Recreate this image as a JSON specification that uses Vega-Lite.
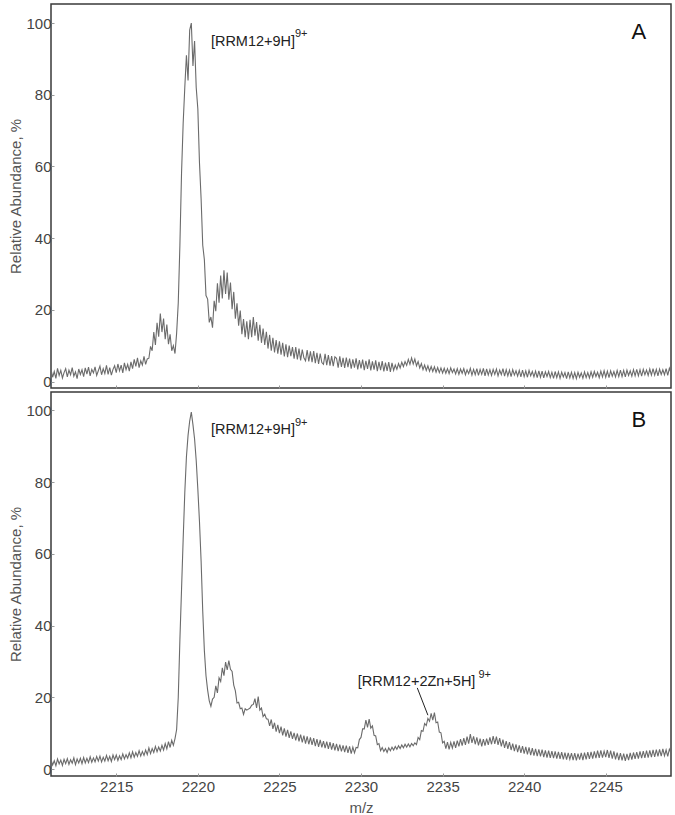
{
"$schema": "https://vega.github.io/schema/vega-lite/v6.json",
"padding": {"left": 8, "top": 3, "right": 4, "bottom": 4},
"background": "white",
"spacing": 0,
"config": {
  "view": {"stroke": "#3a3a3a", "strokeWidth": 1.5},
  "font": "Liberation Sans",
  "axis": {"grid": false, "domain": false, "labelFont": "Liberation Sans", "titleFont": "Liberation Sans", "labelFontSize": 15, "labelColor": "#444", "titleColor": "#555", "titleFontWeight": "normal", "titleFontSize": 15, "tickColor": "#999", "tickSize": -3}
},
"datasets": {
"spec": [
{"m":2211.0,"a":3.4,"b":2.6},{"m":2211.1,"a":1.2,"b":1.1},{"m":2211.2,"a":2.8,"b":2.3},{"m":2211.3,"a":0.9,"b":0.9},{"m":2211.4,"a":3.7,"b":2.8},{"m":2211.5,"a":1.7,"b":1.4},{"m":2211.6,"a":3.1,"b":2.5},{"m":2211.7,"a":1.0,"b":1.0},{"m":2211.8,"a":2.5,"b":2.7},{"m":2211.9,"a":3.6,"b":1.5},
{"m":2212.0,"a":1.3,"b":2.9},{"m":2212.1,"a":3.2,"b":1.3},{"m":2212.2,"a":1.9,"b":2.6},{"m":2212.3,"a":3.9,"b":1.6},{"m":2212.4,"a":1.5,"b":3.1},{"m":2212.5,"a":2.7,"b":1.2},{"m":2212.6,"a":0.8,"b":2.8},{"m":2212.7,"a":3.5,"b":1.7},{"m":2212.8,"a":2.0,"b":3.0},{"m":2212.9,"a":3.3,"b":1.5},
{"m":2213.0,"a":1.4,"b":3.2},{"m":2213.1,"a":3.8,"b":1.7},{"m":2213.2,"a":2.1,"b":3.0},{"m":2213.3,"a":4.0,"b":1.8},{"m":2213.4,"a":1.6,"b":3.4},{"m":2213.5,"a":3.4,"b":1.9},{"m":2213.6,"a":2.4,"b":3.1},{"m":2213.7,"a":4.1,"b":2.0},{"m":2213.8,"a":1.7,"b":3.5},{"m":2213.9,"a":3.0,"b":2.2},
{"m":2214.0,"a":4.3,"b":3.6},{"m":2214.1,"a":1.9,"b":2.0},{"m":2214.2,"a":3.6,"b":3.3},{"m":2214.3,"a":2.2,"b":2.2},{"m":2214.4,"a":4.5,"b":3.8},{"m":2214.5,"a":2.0,"b":2.3},{"m":2214.6,"a":3.9,"b":3.5},{"m":2214.7,"a":1.8,"b":2.1},{"m":2214.8,"a":3.4,"b":3.9},{"m":2214.9,"a":4.4,"b":2.6},
{"m":2215.0,"a":2.5,"b":3.9},{"m":2215.1,"a":4.9,"b":2.4},{"m":2215.2,"a":3.0,"b":3.7},{"m":2215.3,"a":4.6,"b":2.6},{"m":2215.4,"a":2.4,"b":4.2},{"m":2215.5,"a":5.2,"b":2.8},{"m":2215.6,"a":3.3,"b":4.0},{"m":2215.7,"a":4.8,"b":3.0},{"m":2215.8,"a":2.9,"b":4.5},{"m":2215.9,"a":5.5,"b":3.1},
{"m":2216.0,"a":3.6,"b":4.8},{"m":2216.1,"a":6.2,"b":3.3},{"m":2216.2,"a":4.2,"b":4.6},{"m":2216.3,"a":6.6,"b":3.5},{"m":2216.4,"a":3.9,"b":5.1},{"m":2216.5,"a":5.8,"b":3.6},{"m":2216.6,"a":4.6,"b":4.9},{"m":2216.7,"a":7.0,"b":3.8},{"m":2216.8,"a":4.8,"b":5.3},{"m":2216.9,"a":6.3,"b":4.0},
{"m":2217.0,"a":6.5,"b":5.9},{"m":2217.1,"a":9.8,"b":4.3},{"m":2217.2,"a":8.6,"b":5.7},{"m":2217.3,"a":13.8,"b":4.6},{"m":2217.4,"a":10.2,"b":6.3},{"m":2217.5,"a":16.4,"b":4.8},{"m":2217.6,"a":12.5,"b":6.1},{"m":2217.7,"a":19.0,"b":5.0},{"m":2217.8,"a":13.8,"b":6.6},{"m":2217.9,"a":17.6,"b":5.3},
{"m":2218.0,"a":11.8,"b":7.1},{"m":2218.1,"a":15.9,"b":5.6},{"m":2218.2,"a":10.4,"b":7.6},{"m":2218.3,"a":13.2,"b":6.0},{"m":2218.4,"a":8.6,"b":8.0},{"m":2218.5,"a":10.0,"b":6.6},{"m":2218.6,"a":7.8,"b":8.5},{"m":2218.7,"a":13.5,"b":11.0},{"m":2218.8,"a":22.0,"b":20.0},{"m":2218.9,"a":38.0,"b":36.0},
{"m":2219.0,"a":58.0,"b":50.0},{"m":2219.1,"a":72.0,"b":64.0},{"m":2219.2,"a":82.0,"b":77.0},{"m":2219.3,"a":91.0,"b":87.0},{"m":2219.4,"a":84.0,"b":93.0},{"m":2219.5,"a":98.0,"b":97.0},{"m":2219.6,"a":100.0,"b":99.5},{"m":2219.7,"a":88.0,"b":96.0},{"m":2219.8,"a":95.0,"b":92.0},{"m":2219.9,"a":82.0,"b":86.0},
{"m":2220.0,"a":76.0,"b":78.0},{"m":2220.1,"a":61.0,"b":69.0},{"m":2220.2,"a":51.0,"b":58.0},{"m":2220.3,"a":38.0,"b":44.0},{"m":2220.4,"a":34.0,"b":33.0},{"m":2220.5,"a":24.0,"b":26.0},{"m":2220.6,"a":23.0,"b":22.0},{"m":2220.7,"a":16.5,"b":19.0},{"m":2220.8,"a":18.0,"b":17.5},{"m":2220.9,"a":15.0,"b":19.5},
{"m":2221.0,"a":22.5,"b":20.0},{"m":2221.1,"a":19.6,"b":23.2},{"m":2221.2,"a":27.4,"b":21.2},{"m":2221.3,"a":22.0,"b":25.4},{"m":2221.4,"a":29.6,"b":24.4},{"m":2221.5,"a":23.2,"b":28.2},{"m":2221.6,"a":31.0,"b":26.0},{"m":2221.7,"a":24.4,"b":29.8},{"m":2221.8,"a":30.4,"b":27.6},{"m":2221.9,"a":22.8,"b":30.2},
{"m":2222.0,"a":27.6,"b":27.8},{"m":2222.1,"a":20.2,"b":27.2},{"m":2222.2,"a":25.0,"b":23.4},{"m":2222.3,"a":17.5,"b":21.8},{"m":2222.4,"a":21.8,"b":18.4},{"m":2222.5,"a":15.6,"b":18.6},{"m":2222.6,"a":19.8,"b":16.8},{"m":2222.7,"a":13.2,"b":17.0},{"m":2222.8,"a":17.4,"b":15.2},{"m":2222.9,"a":12.4,"b":16.8},
{"m":2223.0,"a":16.8,"b":16.4},{"m":2223.1,"a":11.8,"b":16.7},{"m":2223.2,"a":17.2,"b":17.0},{"m":2223.3,"a":12.4,"b":17.8},{"m":2223.4,"a":18.0,"b":18.0},{"m":2223.5,"a":12.8,"b":19.6},{"m":2223.6,"a":16.6,"b":17.0},{"m":2223.7,"a":11.4,"b":20.2},{"m":2223.8,"a":15.8,"b":16.4},{"m":2223.9,"a":10.8,"b":17.0},
{"m":2224.0,"a":14.8,"b":14.6},{"m":2224.1,"a":10.2,"b":15.3},{"m":2224.2,"a":13.9,"b":14.0},{"m":2224.3,"a":9.2,"b":13.9},{"m":2224.4,"a":13.0,"b":12.0},{"m":2224.5,"a":8.6,"b":13.8},{"m":2224.6,"a":12.2,"b":11.2},{"m":2224.7,"a":8.1,"b":12.9},{"m":2224.8,"a":11.6,"b":10.4},{"m":2224.9,"a":7.8,"b":12.3},
{"m":2225.0,"a":11.2,"b":10.0},{"m":2225.1,"a":7.5,"b":11.8},{"m":2225.2,"a":10.8,"b":9.4},{"m":2225.3,"a":7.0,"b":11.3},{"m":2225.4,"a":10.4,"b":9.0},{"m":2225.5,"a":6.8,"b":10.9},{"m":2225.6,"a":10.0,"b":8.7},{"m":2225.7,"a":7.1,"b":10.5},{"m":2225.8,"a":9.6,"b":8.4},{"m":2225.9,"a":6.4,"b":10.1},
{"m":2226.0,"a":9.6,"b":8.0},{"m":2226.1,"a":6.2,"b":9.9},{"m":2226.2,"a":9.2,"b":7.7},{"m":2226.3,"a":5.9,"b":9.6},{"m":2226.4,"a":8.9,"b":7.4},{"m":2226.5,"a":6.6,"b":9.3},{"m":2226.6,"a":5.8,"b":7.1},{"m":2226.7,"a":8.8,"b":9.1},{"m":2226.8,"a":5.6,"b":6.9},{"m":2226.9,"a":8.4,"b":8.8},
{"m":2227.0,"a":5.4,"b":6.7},{"m":2227.1,"a":8.5,"b":8.6},{"m":2227.2,"a":5.1,"b":6.4},{"m":2227.3,"a":8.0,"b":8.3},{"m":2227.4,"a":4.9,"b":6.2},{"m":2227.5,"a":7.8,"b":8.1},{"m":2227.6,"a":5.3,"b":6.0},{"m":2227.7,"a":4.8,"b":7.8},{"m":2227.8,"a":7.7,"b":5.8},{"m":2227.9,"a":4.6,"b":7.6},
{"m":2228.0,"a":7.4,"b":5.6},{"m":2228.1,"a":4.4,"b":7.5},{"m":2228.2,"a":7.1,"b":5.4},{"m":2228.3,"a":4.3,"b":7.2},{"m":2228.4,"a":6.9,"b":5.2},{"m":2228.5,"a":6.5,"b":7.0},{"m":2228.6,"a":3.9,"b":5.0},{"m":2228.7,"a":7.0,"b":6.8},{"m":2228.8,"a":4.1,"b":4.9},{"m":2228.9,"a":6.6,"b":6.6},
{"m":2229.0,"a":3.8,"b":4.7},{"m":2229.1,"a":6.7,"b":6.5},{"m":2229.2,"a":4.0,"b":4.5},{"m":2229.3,"a":6.4,"b":6.3},{"m":2229.4,"a":3.6,"b":4.3},{"m":2229.5,"a":6.2,"b":6.1},{"m":2229.6,"a":3.9,"b":4.5},{"m":2229.7,"a":6.5,"b":6.0},{"m":2229.8,"a":3.4,"b":5.9},{"m":2229.9,"a":6.0,"b":8.2},
{"m":2230.0,"a":3.7,"b":8.8},{"m":2230.1,"a":6.1,"b":11.2},{"m":2230.2,"a":3.2,"b":11.2},{"m":2230.3,"a":5.8,"b":13.6},{"m":2230.4,"a":3.5,"b":11.6},{"m":2230.5,"a":6.2,"b":13.9},{"m":2230.6,"a":3.1,"b":11.4},{"m":2230.7,"a":5.6,"b":12.0},{"m":2230.8,"a":3.3,"b":9.4},{"m":2230.9,"a":5.9,"b":9.2},
{"m":2231.0,"a":2.9,"b":6.8},{"m":2231.1,"a":5.5,"b":7.1},{"m":2231.2,"a":3.2,"b":5.1},{"m":2231.3,"a":5.7,"b":6.0},{"m":2231.4,"a":2.8,"b":4.9},{"m":2231.5,"a":5.3,"b":5.7},{"m":2231.6,"a":3.0,"b":4.6},{"m":2231.7,"a":5.4,"b":5.9},{"m":2231.8,"a":2.7,"b":5.1},{"m":2231.9,"a":5.2,"b":6.1},
{"m":2232.0,"a":3.1,"b":5.3},{"m":2232.1,"a":4.6,"b":6.3},{"m":2232.2,"a":3.4,"b":5.5},{"m":2232.3,"a":5.0,"b":6.5},{"m":2232.4,"a":3.8,"b":5.7},{"m":2232.5,"a":5.4,"b":6.7},{"m":2232.6,"a":4.2,"b":5.9},{"m":2232.7,"a":5.6,"b":6.9},{"m":2232.8,"a":4.5,"b":6.1},{"m":2232.9,"a":6.2,"b":7.0},
{"m":2233.0,"a":4.8,"b":6.2},{"m":2233.1,"a":6.6,"b":7.1},{"m":2233.2,"a":4.9,"b":6.5},{"m":2233.3,"a":6.3,"b":7.3},{"m":2233.4,"a":4.4,"b":6.8},{"m":2233.5,"a":5.6,"b":8.8},{"m":2233.6,"a":3.8,"b":8.2},{"m":2233.7,"a":5.0,"b":10.7},{"m":2233.8,"a":3.3,"b":10.5},{"m":2233.9,"a":4.6,"b":12.7},
{"m":2234.0,"a":3.1,"b":12.1},{"m":2234.1,"a":4.4,"b":14.1},{"m":2234.2,"a":2.9,"b":13.3},{"m":2234.3,"a":4.2,"b":15.5},{"m":2234.4,"a":2.8,"b":13.6},{"m":2234.5,"a":4.1,"b":15.7},{"m":2234.6,"a":2.6,"b":12.9},{"m":2234.7,"a":3.9,"b":13.1},{"m":2234.8,"a":2.5,"b":10.3},{"m":2234.9,"a":3.8,"b":10.1},
{"m":2235.0,"a":2.4,"b":7.3},{"m":2235.1,"a":3.7,"b":7.7},{"m":2235.2,"a":2.3,"b":5.7},{"m":2235.3,"a":3.6,"b":7.5},{"m":2235.4,"a":2.2,"b":5.5},{"m":2235.5,"a":3.8,"b":7.4},{"m":2235.6,"a":2.5,"b":5.8},{"m":2235.7,"a":3.5,"b":7.7},{"m":2235.8,"a":2.1,"b":5.9},{"m":2235.9,"a":3.6,"b":7.9},
{"m":2236.0,"a":2.0,"b":6.3},{"m":2236.1,"a":3.5,"b":8.3},{"m":2236.2,"a":2.3,"b":6.5},{"m":2236.3,"a":3.6,"b":8.6},{"m":2236.4,"a":1.9,"b":6.7},{"m":2236.5,"a":3.3,"b":9.0},{"m":2236.6,"a":2.2,"b":7.1},{"m":2236.7,"a":3.7,"b":9.7},{"m":2236.8,"a":1.8,"b":7.3},{"m":2236.9,"a":3.4,"b":9.1},
{"m":2237.0,"a":1.9,"b":6.9},{"m":2237.1,"a":3.6,"b":8.8},{"m":2237.2,"a":1.7,"b":6.6},{"m":2237.3,"a":3.4,"b":8.5},{"m":2237.4,"a":2.0,"b":6.3},{"m":2237.5,"a":3.7,"b":8.3},{"m":2237.6,"a":1.6,"b":6.5},{"m":2237.7,"a":3.5,"b":8.5},{"m":2237.8,"a":1.8,"b":6.7},{"m":2237.9,"a":3.3,"b":8.8},
{"m":2238.0,"a":1.7,"b":6.9},{"m":2238.1,"a":3.4,"b":9.2},{"m":2238.2,"a":2.0,"b":7.0},{"m":2238.3,"a":3.5,"b":9.0},{"m":2238.4,"a":1.6,"b":6.7},{"m":2238.5,"a":3.2,"b":8.6},{"m":2238.6,"a":1.9,"b":6.3},{"m":2238.7,"a":3.6,"b":8.2},{"m":2238.8,"a":1.5,"b":5.9},{"m":2238.9,"a":3.3,"b":7.8},
{"m":2239.0,"a":1.6,"b":5.6},{"m":2239.1,"a":3.2,"b":7.5},{"m":2239.2,"a":1.4,"b":5.3},{"m":2239.3,"a":3.3,"b":7.1},{"m":2239.4,"a":1.8,"b":5.0},{"m":2239.5,"a":3.0,"b":6.9},{"m":2239.6,"a":1.5,"b":4.7},{"m":2239.7,"a":3.1,"b":6.6},{"m":2239.8,"a":1.3,"b":4.5},{"m":2239.9,"a":3.2,"b":6.4},
{"m":2240.0,"a":1.4,"b":4.3},{"m":2240.1,"a":3.0,"b":6.2},{"m":2240.2,"a":1.2,"b":4.1},{"m":2240.3,"a":3.1,"b":6.0},{"m":2240.4,"a":1.6,"b":3.9},{"m":2240.5,"a":2.8,"b":5.8},{"m":2240.6,"a":1.3,"b":3.7},{"m":2240.7,"a":2.9,"b":5.6},{"m":2240.8,"a":1.1,"b":3.6},{"m":2240.9,"a":3.0,"b":5.5},
{"m":2241.0,"a":1.2,"b":3.5},{"m":2241.1,"a":2.9,"b":5.4},{"m":2241.2,"a":1.0,"b":3.3},{"m":2241.3,"a":2.7,"b":5.2},{"m":2241.4,"a":1.4,"b":3.2},{"m":2241.5,"a":2.8,"b":5.1},{"m":2241.6,"a":1.1,"b":3.1},{"m":2241.7,"a":2.6,"b":5.0},{"m":2241.8,"a":0.9,"b":3.0},{"m":2241.9,"a":2.8,"b":4.9},
{"m":2242.0,"a":1.1,"b":2.9},{"m":2242.1,"a":2.7,"b":4.8},{"m":2242.2,"a":0.9,"b":2.8},{"m":2242.3,"a":2.6,"b":4.7},{"m":2242.4,"a":1.3,"b":2.7},{"m":2242.5,"a":2.5,"b":4.6},{"m":2242.6,"a":0.8,"b":2.6},{"m":2242.7,"a":2.7,"b":4.5},{"m":2242.8,"a":1.0,"b":2.7},{"m":2242.9,"a":2.6,"b":4.4},
{"m":2243.0,"a":0.9,"b":2.5},{"m":2243.1,"a":2.5,"b":4.4},{"m":2243.2,"a":0.8,"b":2.4},{"m":2243.3,"a":2.6,"b":4.3},{"m":2243.4,"a":1.2,"b":2.6},{"m":2243.5,"a":2.4,"b":4.5},{"m":2243.6,"a":0.9,"b":2.5},{"m":2243.7,"a":2.7,"b":4.6},{"m":2243.8,"a":1.1,"b":2.7},{"m":2243.9,"a":2.5,"b":4.7},
{"m":2244.0,"a":1.0,"b":2.8},{"m":2244.1,"a":2.7,"b":4.8},{"m":2244.2,"a":1.2,"b":2.9},{"m":2244.3,"a":2.8,"b":4.9},{"m":2244.4,"a":1.4,"b":3.0},{"m":2244.5,"a":2.6,"b":5.1},{"m":2244.6,"a":1.1,"b":3.1},{"m":2244.7,"a":2.9,"b":5.2},{"m":2244.8,"a":1.3,"b":3.2},{"m":2244.9,"a":3.0,"b":5.0},
{"m":2245.0,"a":1.2,"b":3.3},{"m":2245.1,"a":2.9,"b":5.3},{"m":2245.2,"a":1.1,"b":3.1},{"m":2245.3,"a":3.0,"b":5.1},{"m":2245.4,"a":1.5,"b":2.9},{"m":2245.5,"a":2.8,"b":4.9},{"m":2245.6,"a":1.3,"b":2.7},{"m":2245.7,"a":3.1,"b":4.6},{"m":2245.8,"a":1.4,"b":2.5},{"m":2245.9,"a":3.2,"b":4.4},
{"m":2246.0,"a":1.4,"b":2.4},{"m":2246.1,"a":3.1,"b":4.3},{"m":2246.2,"a":1.3,"b":2.3},{"m":2246.3,"a":3.2,"b":4.2},{"m":2246.4,"a":1.7,"b":2.5},{"m":2246.5,"a":3.0,"b":4.5},{"m":2246.6,"a":1.5,"b":2.6},{"m":2246.7,"a":3.3,"b":4.6},{"m":2246.8,"a":1.6,"b":2.8},{"m":2246.9,"a":3.4,"b":4.7},
{"m":2247.0,"a":1.6,"b":2.9},{"m":2247.1,"a":3.3,"b":4.9},{"m":2247.2,"a":1.5,"b":3.0},{"m":2247.3,"a":3.4,"b":5.0},{"m":2247.4,"a":1.9,"b":3.1},{"m":2247.5,"a":3.2,"b":5.1},{"m":2247.6,"a":1.7,"b":3.2},{"m":2247.7,"a":3.5,"b":5.2},{"m":2247.8,"a":1.8,"b":3.3},{"m":2247.9,"a":3.6,"b":5.3},
{"m":2248.0,"a":1.8,"b":3.4},{"m":2248.1,"a":3.4,"b":5.4},{"m":2248.2,"a":1.6,"b":3.5},{"m":2248.3,"a":3.5,"b":5.5},{"m":2248.4,"a":2.0,"b":3.6},{"m":2248.5,"a":3.3,"b":5.6},{"m":2248.6,"a":1.9,"b":3.7},{"m":2248.7,"a":3.6,"b":5.3},{"m":2248.8,"a":1.7,"b":3.5},{"m":2248.9,"a":3.7,"b":5.5},
{"m":2249.0,"a":2.4,"b":4.5}
]
},
"vconcat": [
{
  "width": 620, "height": 384,
  "layer": [
    {
      "data": {"name": "spec"},
      "mark": {"type": "line", "color": "#6b6b6b", "strokeWidth": 1.1, "clip": true},
      "encoding": {
        "x": {"field": "m", "type": "quantitative", "scale": {"domain": [2211, 2249], "nice": false, "zero": false}, "axis": {"labels": false, "title": null, "values": [2215, 2220, 2225, 2230, 2235, 2240, 2245]}},
        "y": {"field": "a", "type": "quantitative", "scale": {"domain": [-1.8, 105.3], "nice": false}, "axis": {"values": [0, 20, 40, 60, 80, 100], "title": "Relative Abundance, %", "titlePadding": 2, "labelPadding": 3}}
      }
    },
    {
      "data": {"values": [{"m": 2220.8, "v": 94.6, "t": "[RRM12+9H]"}]},
      "mark": {"type": "text", "align": "left", "baseline": "middle", "fontSize": 14.5, "color": "#222"},
      "encoding": {"x": {"field": "m", "type": "quantitative"}, "y": {"field": "v", "type": "quantitative"}, "text": {"field": "t"}}
    },
    {
      "data": {"values": [{"m": 2225.95, "v": 96.8, "t": "9+"}]},
      "mark": {"type": "text", "align": "left", "baseline": "middle", "fontSize": 11, "color": "#222"},
      "encoding": {"x": {"field": "m", "type": "quantitative"}, "y": {"field": "v", "type": "quantitative"}, "text": {"field": "t"}}
    },
    {
      "data": {"values": [{"m": 2247.03, "v": 97.4, "t": "A"}]},
      "mark": {"type": "text", "align": "center", "baseline": "middle", "fontSize": 22, "color": "#111"},
      "encoding": {"x": {"field": "m", "type": "quantitative"}, "y": {"field": "v", "type": "quantitative"}, "text": {"field": "t"}}
    }
  ]
},
{
  "width": 620, "height": 384,
  "layer": [
    {
      "data": {"name": "spec"},
      "mark": {"type": "line", "color": "#6b6b6b", "strokeWidth": 1.1, "clip": true},
      "encoding": {
        "x": {"field": "m", "type": "quantitative", "scale": {"domain": [2211, 2249], "nice": false, "zero": false}, "axis": {"title": "m/z", "format": "d", "values": [2215, 2220, 2225, 2230, 2235, 2240, 2245], "labelPadding": 6, "titlePadding": 6}},
        "y": {"field": "b", "type": "quantitative", "scale": {"domain": [-1.95, 105.1], "nice": false}, "axis": {"values": [0, 20, 40, 60, 80, 100], "title": "Relative Abundance, %", "titlePadding": 2, "labelPadding": 3}}
      }
    },
    {
      "data": {"values": [{"m": 2220.8, "v": 94.4, "t": "[RRM12+9H]"}, {"m": 2229.8, "v": 24.3, "t": "[RRM12+2Zn+5H]"}]},
      "mark": {"type": "text", "align": "left", "baseline": "middle", "fontSize": 14.5, "color": "#222"},
      "encoding": {"x": {"field": "m", "type": "quantitative"}, "y": {"field": "v", "type": "quantitative"}, "text": {"field": "t"}}
    },
    {
      "data": {"values": [{"m": 2225.95, "v": 96.4, "t": "9+"}, {"m": 2237.2, "v": 26.3, "t": "9+"}]},
      "mark": {"type": "text", "align": "left", "baseline": "middle", "fontSize": 11, "color": "#222"},
      "encoding": {"x": {"field": "m", "type": "quantitative"}, "y": {"field": "v", "type": "quantitative"}, "text": {"field": "t"}}
    },
    {
      "data": {"values": [{"m": 2233.45, "v": 22.6, "m2": 2234.1, "v2": 15.0}]},
      "mark": {"type": "rule", "color": "#222", "strokeWidth": 1},
      "encoding": {"x": {"field": "m", "type": "quantitative"}, "y": {"field": "v", "type": "quantitative"}, "x2": {"field": "m2"}, "y2": {"field": "v2"}}
    },
    {
      "data": {"values": [{"m": 2247.03, "v": 97.2, "t": "B"}]},
      "mark": {"type": "text", "align": "center", "baseline": "middle", "fontSize": 22, "color": "#111"},
      "encoding": {"x": {"field": "m", "type": "quantitative"}, "y": {"field": "v", "type": "quantitative"}, "text": {"field": "t"}}
    }
  ]
}
]
}
